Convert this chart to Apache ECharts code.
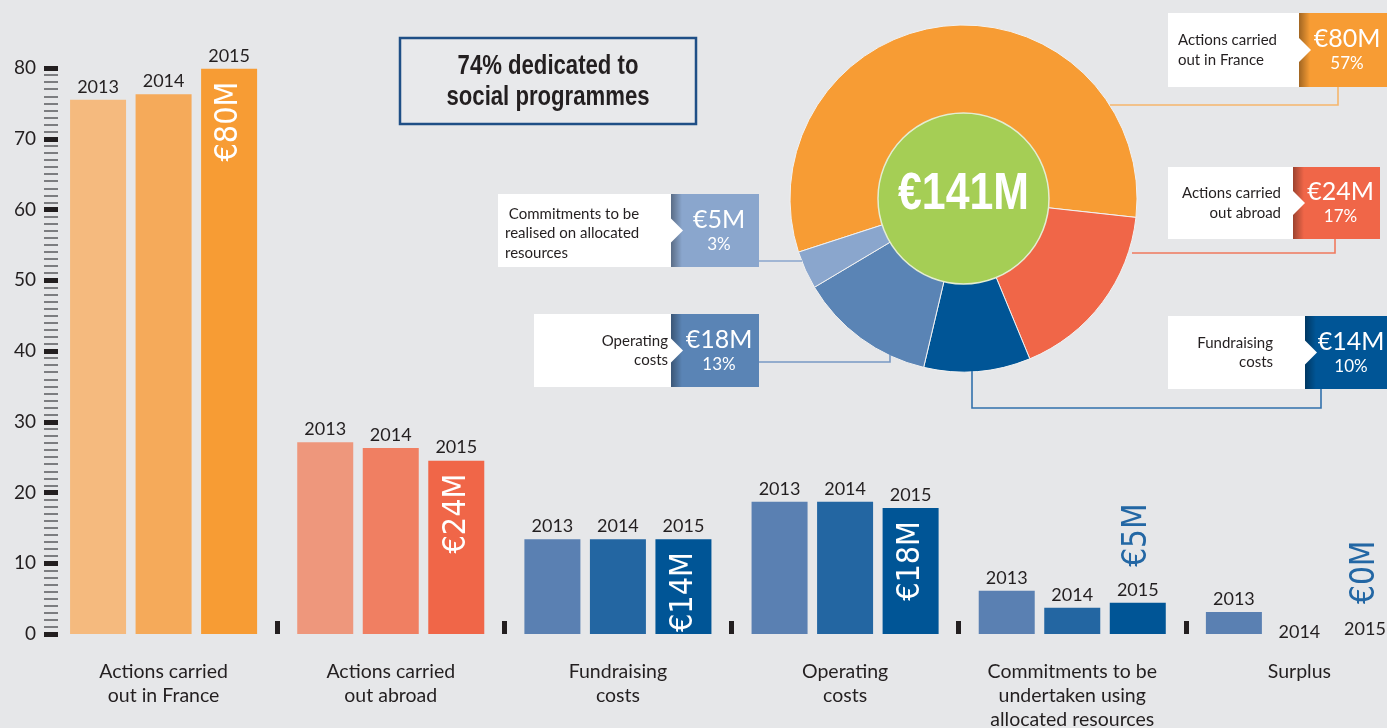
<!DOCTYPE html>
<html><head><meta charset="utf-8">
<script src="https://cdn.jsdelivr.net/npm/echarts@6/dist/echarts.min.js"></script>
<style>html,body{margin:0;padding:0;background:#E6E7E9;}#c{width:1387px;height:728px;}</style>
</head><body><div id="c"></div>
<script>
// ---------- data ----------
const categories = ['Actions carried\nout in France','Actions carried\nout abroad','Fundraising\ncosts','Operating\ncosts','Commitments to be\nundertaken using\nallocated resources','Surplus'];
const years = ['2013','2014','2015'];
const values2013 = [75.5, 27.1, 13.4, 18.7, 6.1, 3.1];
const values2014 = [76.3, 26.3, 13.4, 18.7, 3.7, 0];
const values2015 = [79.9, 24.5, 13.4, 17.8, 4.4, 0];
const rounded2015 = [80, 24, 14, 18, 5, 0];
const yMin = 0, yMax = 80, yStep = 10;
const pieNames = ['Actions carried\nout in France','Actions carried\nout abroad','Fundraising\ncosts','Operating\ncosts',' Commitments to be\nrealised on allocated\nresources'];
const pieValues = [80, 24, 14, 18, 5];
const piePercents = [57, 17, 10, 13, 3];
const pieTotal = 141;
const headline = '74% dedicated to\nsocial programmes';

// ---------- styles ----------
const INK = '#231f20';
const SANS = 'Lato, "Open Sans", sans-serif';
const COND = '"DejaVu Sans Condensed","DejaVu Sans",sans-serif';
const HELV = '"Liberation Sans",Arial,sans-serif';
const groupColors = [
  ['#F5BA7E','#F5AA5A','#F79C34'],
  ['#EE977C','#F07F62','#F06648'],
  ['#5A80B2','#2366A2','#005596'],
  ['#5A80B2','#2366A2','#005596'],
  ['#5A80B2','#2366A2','#005596'],
  ['#5A80B2','#2366A2','#005596']
];
const pieColors = ['#F79C34','#F06648','#005596','#5A84B5','#8AA6CD'];
const BW = 56;
const PIE_C = [963.5, 198.5];

function yearBar(name, vals, yi) {
  return {
    name: name, type: 'bar', barWidth: BW, barGap: '17%', barCategoryGap: '17.6%',
    data: vals.map((v, i) => ({
      value: v,
      itemStyle: { color: groupColors[i][yi] },
      label: v === 0 ? { offset: [0, 11] } : {}
    })),
    label: { show: true, position: 'top', distance: 4, formatter: name,
             color: INK, fontSize: 18, fontFamily: SANS }
  };
}

const series = [
  yearBar('2013', values2013, 0),
  yearBar('2014', values2014, 1),
  {
    name: '2015', type: 'bar', barWidth: BW, stack: 'y15',
    data: values2015.map((v, i) => ({ value: v, itemStyle: { color: groupColors[i][2] },
      label: { show: i < 4 } })),
    label: { position: 'insideTop', rotate: 90, align: 'right', verticalAlign: 'middle',
             distance: 13, color: '#fff', fontSize: 32, fontFamily: COND,
             formatter: p => '€' + rounded2015[p.dataIndex] + 'M' }
  },
  {
    name: '2015 year', type: 'bar', barWidth: BW, stack: 'y15',
    data: values2015.map(v => ({ value: 0, itemStyle: { color: 'transparent' },
      label: v === 0 ? { offset: [0, 8] } : {} })),
    label: { show: true, position: 'top', distance: 4, formatter: '2015',
             color: INK, fontSize: 18, fontFamily: SANS }
  },
  {
    name: '2015 value', type: 'bar', barWidth: BW, stack: 'y15',
    data: values2015.map((v, i) => ({ value: 0, itemStyle: { color: 'transparent' },
      label: { show: i >= 4, distance: v === 0 ? 30 : 36, offset: v === 0 ? [0, 0] : [0, 0] } })),
    label: { position: 'top', rotate: 90, align: 'left', verticalAlign: 'middle',
             color: '#2367A4', fontSize: 33, fontFamily: COND,
             formatter: p => '€' + rounded2015[p.dataIndex] + 'M' }
  },
  {
    name: 'donut', type: 'pie', center: PIE_C, radius: [85, 173.5],
    startAngle: 198, clockwise: true, silent: true, label: { show: false }, labelLine: { show: false },
    itemStyle: { borderColor: '#F2F2F2', borderWidth: 1 },
    data: pieValues.map((v, i) => ({ value: v, name: pieNames[i], itemStyle: { color: pieColors[i] } }))
  },
  {
    name: 'total', type: 'pie', center: PIE_C, radius: [0, 85.5], silent: true,
    itemStyle: { color: '#A5CE55', borderColor: '#E4EDD2', borderWidth: 1.5 },
    label: { show: false }, labelLine: { show: false },
    data: [{ value: pieTotal, name: 'Total' }]
  }
];

// ---------- callout boxes for the donut ----------
const callouts = [
  { white: [1168, 13, 131, 74], box: [1299, 13, 88, 74], align: 'left', tx: 1178,
    line: [[1110, 105], [1338, 105], [1338, 87]], lineColor: '#F6B66C' },
  { white: [1168, 167, 125, 72], box: [1293, 167, 87, 72], align: 'right', tx: 1281,
    line: [[1132, 253], [1335, 253], [1335, 239]], lineColor: '#F07A5E' },
  { white: [1168, 316, 137, 73], box: [1305, 316, 84, 73], align: 'right', tx: 1273,
    line: [[972, 371], [972, 408], [1321, 408], [1321, 389]], lineColor: '#3271AC' },
  { white: [534, 314, 137, 73], box: [671, 314, 88, 73], align: 'right', tx: 668,
    line: [[759, 362], [890, 362], [890, 355]], lineColor: '#7899C4' },
  { white: [498, 194, 173, 73], box: [671, 194, 88, 73], align: 'left', tx: 505, ty: 3,
    line: [[759, 261], [802, 261]], lineColor: '#8AA6CD' }
];
const graphic = [];
callouts.forEach((c, i) => {
  const [wx, wy, ww, wh] = c.white, [bx, by, bw, bh] = c.box;
  const cy = by + bh / 2;
  graphic.push({ type: 'polyline', z: 90, shape: { points: c.line },
    style: { stroke: c.lineColor, lineWidth: 1.6, fill: null } });
  graphic.push({ type: 'rect', z: 100, shape: { x: wx, y: wy, width: ww, height: wh }, style: { fill: '#fff' } });
  graphic.push({ type: 'rect', z: 100, shape: { x: bx, y: by, width: bw, height: bh }, style: { fill: pieColors[i] } });
  graphic.push({ type: 'rect', z: 101, shape: { x: bx, y: by, width: 11, height: bh },
    style: { fill: { type: 'linear', x: 0, y: 0, x2: 1, y2: 0,
      colorStops: [{ offset: 0, color: 'rgba(0,0,0,0.35)' }, { offset: 1, color: 'rgba(0,0,0,0)' }] } } });
  graphic.push({ type: 'polygon', z: 102, shape: { points: [[bx - 1, cy - 13], [bx + 12, cy], [bx - 1, cy + 13]] },
    style: { fill: '#fff' } });
  graphic.push({ type: 'text', z: 103, style: { text: pieNames[i], x: c.tx, y: cy + (c.ty || 0),
    textAlign: c.align, textVerticalAlign: 'middle', fill: INK, font: '15px ' + SANS, lineHeight: 19.5 } });
  graphic.push({ type: 'text', z: 103, style: { text: '€' + pieValues[i] + 'M', x: bx + bw / 2 + 4, y: cy - 11,
    textAlign: 'center', textVerticalAlign: 'middle', fill: '#fff', font: '25px ' + SANS } });
  graphic.push({ type: 'text', z: 103, style: { text: piePercents[i] + '%', x: bx + bw / 2 + 4, y: cy + 14,
    textAlign: 'center', textVerticalAlign: 'middle', fill: '#fff', font: '17px ' + SANS } });
});
// total in the donut centre
graphic.push({ type: 'text', z: 110, x: PIE_C[0], y: 195, scaleX: 0.84,
  style: { text: '€' + pieTotal + 'M', x: 0, y: 0, textAlign: 'center', textVerticalAlign: 'middle',
           fill: '#fff', font: 'bold 51px ' + HELV } });
// headline box
graphic.push({ type: 'rect', z: 100, shape: { x: 400, y: 38, width: 296, height: 86 },
  style: { fill: '#E8E9EB', stroke: '#1F4F86', lineWidth: 2.5 } });
graphic.push({ type: 'text', z: 101, x: 548, y: 82, scaleX: 0.82,
  style: { text: headline, x: 0, y: 0, textAlign: 'center', textVerticalAlign: 'middle',
           fill: INK, font: 'bold 27px ' + HELV, lineHeight: 31 } });

const chart = echarts.init(document.getElementById('c'));
chart.setOption({
  backgroundColor: '#E6E7E9',
  animation: false,
  grid: { left: 50, top: 68, width: 1363, height: 566, containLabel: false, outerBoundsMode: 'none' },
  xAxis: {
    type: 'category', data: categories,
    axisLine: { show: false },
    axisTick: { show: true, inside: true, length: 13, interval: (idx) => idx > 0,
                lineStyle: { color: INK, width: 5 } },
    axisLabel: { interval: 0, margin: 26, color: INK, fontSize: 19.5, lineHeight: 24, fontFamily: SANS }
  },
  yAxis: {
    type: 'value', min: yMin, max: yMax, interval: yStep, offset: -8,
    axisLine: { show: false },
    axisTick: { show: true, length: 14, lineStyle: { color: INK, width: 5 } },
    minorTick: { show: true, splitNumber: 10, length: 14, lineStyle: { color: '#5a5b5d', width: 1.5 } },
    splitLine: { show: false },
    axisLabel: { margin: 22, color: INK, fontSize: 19, fontFamily: SANS }
  },
  series: series,
  graphic: graphic
});
</script>
</body></html>
